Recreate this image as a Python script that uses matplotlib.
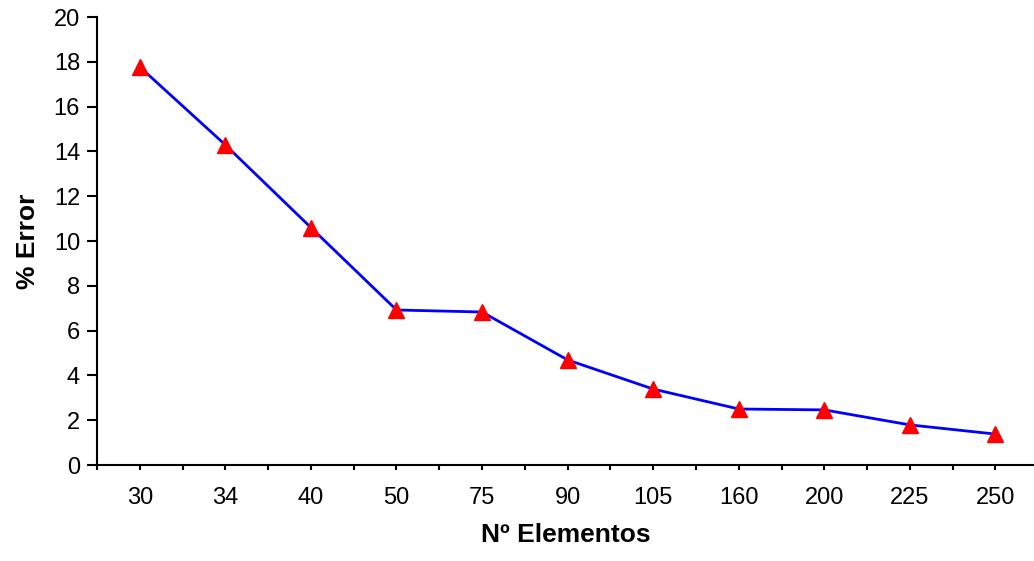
import numpy as np
import matplotlib.pyplot as plt
from matplotlib.ticker import MultipleLocator

plt.rcParams['font.family'] = ['Liberation Sans', 'DejaVu Sans']

elementos = ['30', '34', '40', '50', '75', '90', '105', '160', '200', '225', '250']
error_pct = [17.77, 14.29, 10.6, 6.92, 6.83, 4.69, 3.39, 2.5, 2.46, 1.79, 1.38]

x = np.arange(len(elementos))

fig = plt.figure(figsize=(10.34, 5.61), dpi=100)
ax = fig.add_axes([97 / 1034, 96 / 561, 937 / 1034, 448 / 561])

ax.plot(x, error_pct, color='#0000FF', linewidth=2, marker='^',
        markersize=12, markerfacecolor='#FF0000', markeredgecolor='#FF0000',
        zorder=3)

ax.set_xlim(-0.5, 10.45)
ax.set_ylim(0, 20)
ax.set_xticks(x)
ax.set_xticklabels(elementos)
ax.xaxis.set_minor_locator(MultipleLocator(1, offset=0.5))
ax.yaxis.set_major_locator(MultipleLocator(2))

for side in ['top', 'right']:
    ax.spines[side].set_visible(False)
for side in ['left', 'bottom']:
    ax.spines[side].set_linewidth(1.5)

ax.tick_params(axis='x', which='both', direction='out', length=3.6, width=1.5,
               labelsize=17, pad=11.9)
ax.tick_params(axis='y', which='both', direction='out', length=7.2, width=1.5,
               labelsize=17, pad=5)

ax.set_xlabel('Nº Elementos', fontsize=19, fontweight='bold', labelpad=10.2)
ax.set_ylabel('% Error', fontsize=19, fontweight='bold', labelpad=9.5)

fig.savefig('out.png', dpi=100)
